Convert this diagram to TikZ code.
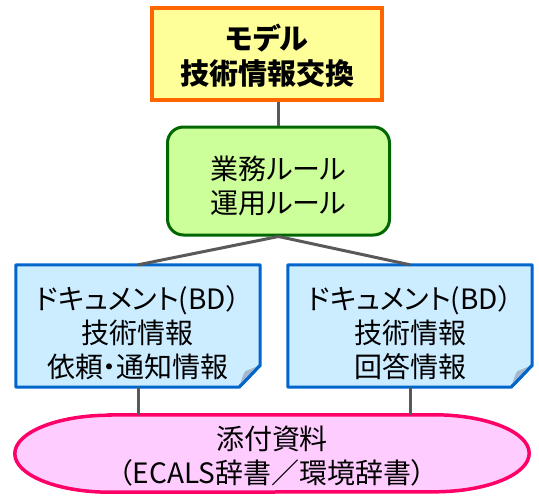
\documentclass[tikz,border=0pt]{standalone}
\usepackage{fontspec}
\newfontfamily\jpfont[RawFeature={+palt}]{Noto Sans CJK JP}
\usepackage{tikz}
\usetikzlibrary{positioning}
\usetikzlibrary{backgrounds}
\definecolor{orangeline}{HTML}{FF6600}
\definecolor{yellowfill}{HTML}{FFFF99}
\definecolor{greenline}{HTML}{006600}
\definecolor{greenfill}{HTML}{CCFF99}
\definecolor{blueline}{HTML}{0066CC}
\definecolor{bluefill}{HTML}{CCECFF}
\definecolor{foldfill}{HTML}{A6B8CC}
\definecolor{pinkline}{HTML}{FF0066}
\definecolor{pinkfill}{HTML}{FFCCFF}
\definecolor{linkgray}{HTML}{595959}
% strut that pushes the text of a box a little down
\newcommand{\lowtext}[1]{\rule{0pt}{#1}}
\tikzset{
    boxtext/.style={align=center, font=\jpfont\fontsize{28}{34}\selectfont},
    modelbox/.style={boxtext, shape=rectangle, draw=orangeline, fill=yellowfill, line width=3.5pt,
        minimum width=230pt, minimum height=92pt, font=\jpfont\bfseries\fontsize{29}{35}\selectfont},
    rulebox/.style={boxtext, shape=rectangle, rounded corners=16pt, draw=greenline, fill=greenfill,
        line width=3pt, minimum width=222pt, minimum height=108pt},
    docbox/.style={boxtext, shape=rectangle, minimum width=244pt, minimum height=122pt},
    attachbox/.style={boxtext, shape=rectangle, minimum width=514pt, minimum height=77pt},
    link/.style={draw=linkgray, line width=3pt}}

\begin{document}
\begin{tikzpicture}[x=1pt, y=-1pt]
        \useasboundingbox (0,0) rectangle (539,498);

                    \node[modelbox] (model) at (267,54) {\lowtext{28pt}モデル\\技術情報交換};
                    \node[rulebox] (rule) at (278.5,181) {\lowtext{34pt}業務ルール\\運用ルール};
                    \node[docbox] (docL) at (138,326) {\lowtext{38pt}ドキュメント(BD）\\技術情報\\依頼・通知情報};
                    \node[docbox] (docR) at (410,326) {\lowtext{38pt}ドキュメント(BD）\\技術情報\\回答情報};
                    \node[attachbox] (attach) at (272,453.5) {\lowtext{29pt}添付資料\\（ECALS辞書／環境辞書）};

                    % document shapes with a folded corner
                    \begin{scope}[on background layer]
                    \foreach \d in {docL,docR} {
                        \draw[draw=blueline, fill=bluefill, line width=3pt, line join=round]
                            (\d.north west) -- (\d.north east) -- ([yshift=22pt]\d.south east)
                            -- ([xshift=-21pt]\d.south east) -- (\d.south west) -- cycle;
                        \fill[foldfill] ([xshift=-21pt]\d.south east)
                            .. controls ([xshift=-18pt, yshift=10pt]\d.south east) .. ([xshift=-15pt, yshift=16pt]\d.south east)
                            -- ([yshift=22pt]\d.south east) -- cycle;
                        \draw[draw=blueline, line width=3pt, line join=round]
                            ([xshift=-21pt]\d.south east) -- ([yshift=22pt]\d.south east);
                    }
                    % rounded band for the attachments
                    \draw[draw=pinkline, fill=pinkfill, line width=3.5pt]
                        ([xshift=95pt]attach.north west) -- ([xshift=-95pt]attach.north east)
                        arc[start angle=90, end angle=-90, x radius=95pt, y radius=38.5pt]
                        -- ([xshift=95pt]attach.south west)
                        arc[start angle=270, end angle=90, x radius=95pt, y radius=38.5pt] -- cycle;
                    \end{scope}

                    \draw[link] (rule.north) -- (rule.north |- model.south);
                    \draw[link] (rule.south) -- (docL.north);
                    \draw[link] (rule.south) -- (docR.north);
                    \draw[link] (docL.south) -- (docL.south |- attach.north);
                    \draw[link] (docR.south) -- (docR.south |- attach.north);

                \end{tikzpicture}
\end{document}
